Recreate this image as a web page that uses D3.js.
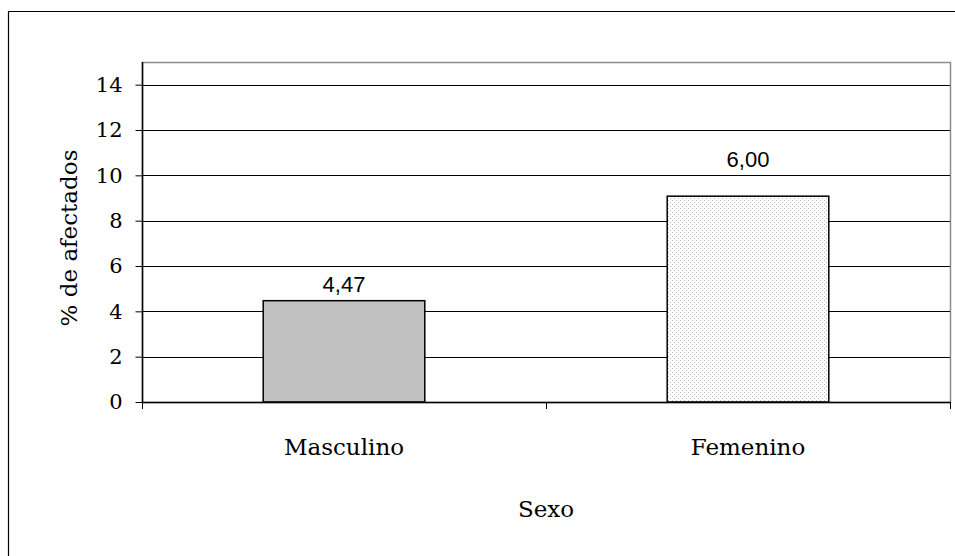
<!DOCTYPE html>
<html><head><meta charset="utf-8">
<script src="https://cdn.jsdelivr.net/npm/d3@7"></script>
<style>body{margin:0;background:#fff}</style>
</head><body>
<script>
const categories = ["Masculino", "Femenino"];
const values = [4.47, 9.08];
const valueLabels = ["4,47", "6,00"];
const yTicks = [0, 2, 4, 6, 8, 10, 12, 14];
const yTitle = "% de afectados";
const xTitle = "Sexo";

(function () {
const W = 955, H = 556;
const serif = "'DejaVu Serif', serif";
const svg = d3.select("body").append("svg").attr("width", W).attr("height", H);

const defs = svg.append("defs");
const pat = defs.append("pattern").attr("id", "dots").attr("patternUnits", "userSpaceOnUse")
  .attr("width", 4).attr("height", 4);
pat.append("rect").attr("width", 4).attr("height", 4).attr("fill", "#fff");
pat.append("rect").attr("x", 0).attr("y", 0).attr("width", 1).attr("height", 1).attr("fill", "#b8b8b8");
pat.append("rect").attr("x", 2).attr("y", 2).attr("width", 1).attr("height", 1).attr("fill", "#b8b8b8");

// outer frame
svg.append("path").attr("d", `M8.5,${H} V11.5 H${W}`).attr("fill", "none").attr("stroke", "#000").attr("stroke-width", 1.2);

const pL = 142, pR = 950, pT = 62, pB = 402;
const x = d3.scaleBand().domain(categories).range([pL, pR]).paddingInner(0.6).paddingOuter(0.3);
const y = d3.scaleLinear().domain([0, 15]).range([pB, pT]);

// plot border (grey)
svg.append("rect").attr("x", pL + 0.5).attr("y", pT + 0.5).attr("width", pR - pL).attr("height", pB - pT)
  .attr("fill", "none").attr("stroke", "#8c8c8c").attr("stroke-width", 1.5);

// gridlines
svg.append("g").selectAll("line").data(yTicks.filter(d => d > 0)).join("line")
  .attr("x1", pL).attr("x2", pR).attr("y1", d => Math.round(y(d)) + 0.5).attr("y2", d => Math.round(y(d)) + 0.5)
  .attr("stroke", "#000").attr("stroke-width", 1);

// bars
svg.append("g").selectAll("rect").data(values).join("rect")
  .attr("x", (d, i) => x(categories[i]))
  .attr("y", d => y(d))
  .attr("width", x.bandwidth())
  .attr("height", d => pB - y(d))
  .attr("fill", (d, i) => i === 0 ? "#c0c0c0" : "url(#dots)")
  .attr("stroke", "#000").attr("stroke-width", 1.5);

// y axis
const yAxis = d3.axisLeft(y).tickValues(yTicks).tickSize(7).tickPadding(13).tickFormat(d3.format("d"));
const gy = svg.append("g").attr("transform", `translate(${pL + 0.5},0)`).call(yAxis);
gy.select(".domain").attr("stroke", "#000").attr("stroke-width", 1.5).attr("d", `M0,${pB}V${pT}`);
gy.selectAll(".tick line").attr("stroke", "#000");
gy.selectAll("text").attr("font-family", serif).attr("font-size", 21).attr("fill", "#000");

// x axis baseline + ticks between categories
const xb = svg.append("g");
xb.append("line").attr("x1", pL).attr("x2", pR + 1).attr("y1", pB + 0.5).attr("y2", pB + 0.5)
  .attr("stroke", "#000").attr("stroke-width", 1.5);
const bounds = [pL, (x(categories[0]) + x.bandwidth() + x(categories[1])) / 2, pR];
xb.selectAll("line.t").data(bounds).join("line").attr("class", "t")
  .attr("x1", d => Math.round(d) + 0.5).attr("x2", d => Math.round(d) + 0.5)
  .attr("y1", pB).attr("y2", pB + 7).attr("stroke", "#000");

// category labels
svg.append("g").selectAll("text").data(categories).join("text")
  .attr("x", d => x(d) + x.bandwidth() / 2).attr("y", 455)
  .attr("text-anchor", "middle").attr("font-family", serif).attr("font-size", 23)
  .text(d => d);

// value labels
const labelGap = [9, 29];
svg.append("g").selectAll("text").data(values).join("text")
  .attr("x", (d, i) => x(categories[i]) + x.bandwidth() / 2).attr("y", (d, i) => y(d) - labelGap[i])
  .attr("text-anchor", "middle").attr("font-family", "'Liberation Sans', Arial, sans-serif").attr("font-size", 22)
  .text((d, i) => valueLabels[i]);

// titles
svg.append("text").attr("x", (pL + pR) / 2).attr("y", 517).attr("text-anchor", "middle")
  .attr("font-family", serif).attr("font-size", 23).text(xTitle);
svg.append("text").attr("transform", "translate(77,238) rotate(-90)").attr("text-anchor", "middle")
  .attr("font-family", serif).attr("font-size", 23).text(yTitle);
})();
</script>
</body></html>
